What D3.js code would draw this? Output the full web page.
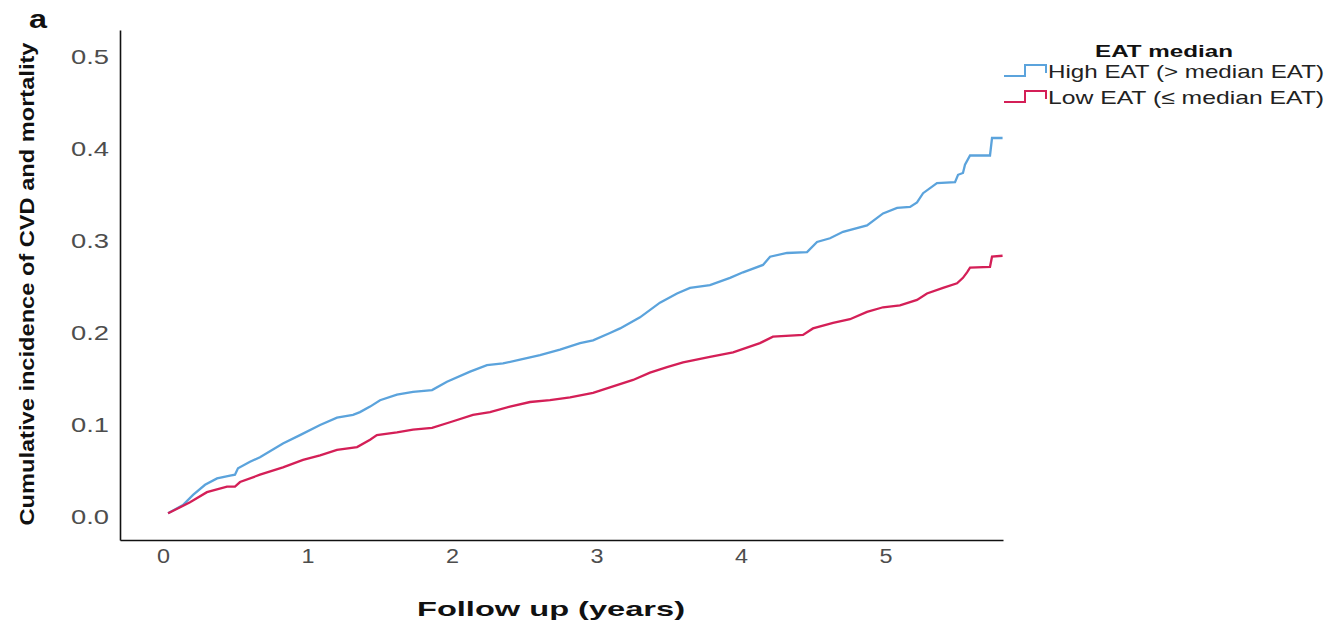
<!DOCTYPE html>
<html><head><meta charset="utf-8">
<script src="https://cdn.jsdelivr.net/npm/d3@7"></script>
<style>body{margin:0;background:#fff}svg{display:block}text{font-family:"Liberation Sans",Arial,sans-serif}</style>
</head><body>
<svg id="c" width="1327" height="622"></svg>
<script>
const xTicks = [0,1,2,3,4,5];
const yTicks = [0.0,0.1,0.2,0.3,0.4,0.5];
const seriesNames = ["High EAT (> median EAT)", "Low EAT (\u2264 median EAT)"];
const highT = [0.035,0.138,0.208,0.291,0.374,0.464,0.498,0.519,0.602,0.671,0.830,0.948,1.087,1.204,1.315,1.363,1.433,1.502,1.619,1.730,1.862,1.965,2.125,2.242,2.353,2.471,2.609,2.747,2.886,2.976,3.093,3.163,3.301,3.439,3.557,3.647,3.785,3.924,4.014,4.152,4.201,4.318,4.457,4.526,4.616,4.706,4.872,4.983,5.080,5.170,5.218,5.260,5.356,5.481,5.502,5.536,5.550,5.585,5.723,5.737,5.810];
const highV = [0.004,0.013,0.024,0.035,0.042,0.045,0.046,0.053,0.060,0.065,0.080,0.089,0.100,0.108,0.111,0.114,0.120,0.127,0.133,0.136,0.138,0.147,0.158,0.165,0.167,0.171,0.176,0.182,0.189,0.192,0.200,0.205,0.217,0.233,0.243,0.249,0.252,0.260,0.266,0.274,0.283,0.287,0.288,0.299,0.303,0.310,0.317,0.330,0.336,0.337,0.342,0.352,0.363,0.364,0.372,0.374,0.383,0.393,0.393,0.412,0.412];
const lowT = [0.035,0.187,0.304,0.443,0.498,0.533,0.671,0.830,0.969,1.087,1.204,1.343,1.433,1.480,1.619,1.730,1.862,1.986,2.145,2.263,2.401,2.540,2.678,2.817,2.976,3.093,3.253,3.370,3.488,3.599,3.785,3.945,4.131,4.221,4.429,4.498,4.637,4.754,4.872,4.983,5.100,5.218,5.287,5.398,5.495,5.536,5.564,5.585,5.723,5.737,5.810];
const lowV = [0.004,0.016,0.027,0.033,0.033,0.038,0.046,0.054,0.062,0.067,0.073,0.076,0.084,0.089,0.092,0.095,0.097,0.103,0.111,0.114,0.120,0.125,0.127,0.130,0.135,0.141,0.149,0.157,0.163,0.168,0.174,0.179,0.189,0.196,0.198,0.205,0.211,0.215,0.223,0.228,0.230,0.236,0.243,0.249,0.254,0.260,0.266,0.271,0.272,0.283,0.284];
const colors = ["#5ba3dc", "#d41f57"];

const svg = d3.select("#c");
const x = d3.scaleLinear().domain([-0.2976, 5.813]).range([120, 1003]);
const y = d3.scaleLinear().domain([-0.025, 0.5294]).range([540, 30]);

const line = d3.line().x(d => x(d[0])).y(d => y(d[1]));
const series = [d3.zip(highT, highV), d3.zip(lowT, lowV)];
series.forEach((s, i) => {
  svg.append("path").datum(s).attr("d", line).attr("fill", "none")
    .attr("stroke", colors[i]).attr("stroke-width", 2.3).attr("stroke-linejoin", "miter");
});

const ax = svg.append("g").attr("transform", "translate(0,540)")
  .call(d3.axisBottom(x).tickValues(xTicks).tickSize(0).tickPadding(9).tickFormat(d3.format("d")));
const ay = svg.append("g").attr("transform", "translate(120,0)")
  .call(d3.axisLeft(y).tickValues(yTicks).tickSize(0).tickPadding(11).tickFormat(d3.format(".1f")));
[ax, ay].forEach(g => {
  g.select(".domain").attr("stroke", "#111").attr("stroke-width", 1.6);
  g.selectAll("text").attr("fill", "#4d4d4d").style("font-size", "20px");
});
ax.selectAll("text").attr("textLength", 13).attr("lengthAdjust", "spacingAndGlyphs");
ay.selectAll("text").attr("textLength", 38).attr("lengthAdjust", "spacingAndGlyphs");

svg.append("text").attr("x", 29).attr("y", 28).text("a")
  .style("font-size", "25px").style("font-weight", "bold").attr("fill", "#111")
  .attr("textLength", 18).attr("lengthAdjust", "spacingAndGlyphs");

svg.append("text").attr("transform", "translate(34,284) rotate(-90)").attr("text-anchor", "middle")
  .style("font-size", "21px").style("font-weight", "bold").attr("fill", "#111")
  .attr("textLength", 483).attr("lengthAdjust", "spacingAndGlyphs")
  .text("Cumulative incidence of CVD and mortality");

svg.append("text").attr("x", 551).attr("y", 616).attr("text-anchor", "middle")
  .style("font-size", "21px").style("font-weight", "bold").attr("fill", "#111")
  .attr("textLength", 268).attr("lengthAdjust", "spacingAndGlyphs")
  .text("Follow up (years)");

// legend
svg.append("text").attr("x", 1164).attr("y", 57).attr("text-anchor", "middle")
  .style("font-size", "17px").style("font-weight", "bold").attr("fill", "#111")
  .attr("textLength", 138).attr("lengthAdjust", "spacingAndGlyphs").text("EAT median");
const legY = [71, 97];
seriesNames.forEach((n, i) => {
  const cy = legY[i];
  svg.append("path").attr("d", `M1004,${cy + 5}H1025V${cy - 6}H1046V${cy + 2}`)
    .attr("fill", "none").attr("stroke", colors[i]).attr("stroke-width", 2);
  svg.append("text").attr("x", 1048).attr("y", cy + 7)
    .style("font-size", "19px").attr("fill", "#222")
    .attr("textLength", 276).attr("lengthAdjust", "spacingAndGlyphs").text(n);
});
</script>
</body></html>
